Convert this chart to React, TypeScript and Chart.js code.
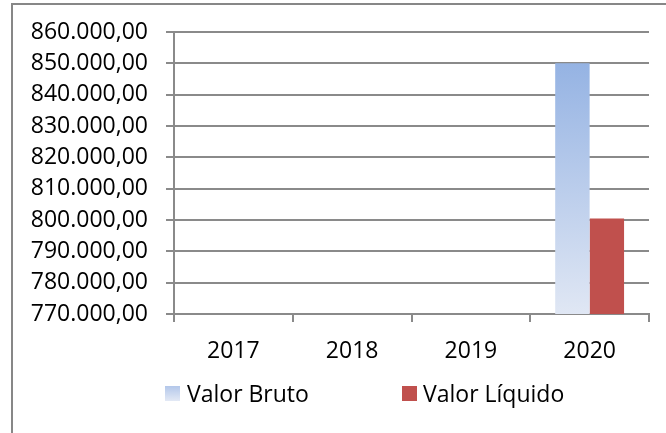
import { useEffect, useRef } from "react";
import { Chart, registerables } from "chart.js";

Chart.register(...registerables);

const categories = ["2017", "2018", "2019", "2020"];
const seriesNames = ["Valor Bruto", "Valor Líquido"];
const valorBruto: (number | null)[] = [null, null, null, 850000];
const valorLiquido: (number | null)[] = [null, null, null, 800500];
const yMin = 770000;
const yMax = 860000;
const yStep = 10000;

const FONT = "'Open Sans', sans-serif";
const GRID = "#8a8a8a";
const BLUE_TOP = "#95B3E3";
const BLUE_BOTTOM = "#E0E7F4";
const RED = "#C0504D";

function fmt(v: number): string {
  const s = Math.round(v).toString().replace(/\B(?=(\d{3})+(?!\d))/g, ".");
  return s + ",00";
}

export default function App() {
  const ref = useRef<HTMLCanvasElement>(null);

  useEffect(() => {
    const chart = new Chart(ref.current!, {
      type: "bar",
      data: {
        labels: categories,
        datasets: [
          {
            label: seriesNames[0],
            data: valorBruto,
            backgroundColor: (c: any) => {
              const ch = c.chart;
              const area = ch.chartArea;
              if (!area || c.type !== "data" || c.raw == null) return BLUE_TOP;
              const top = ch.scales.y.getPixelForValue(c.raw);
              const g = ch.ctx.createLinearGradient(0, top, 0, area.bottom);
              g.addColorStop(0, BLUE_TOP);
              g.addColorStop(1, BLUE_BOTTOM);
              return g;
            },
          },
          {
            label: seriesNames[1],
            data: valorLiquido,
            backgroundColor: RED,
          },
        ],
      },
      options: {
        animation: false,
        responsive: false,
        layout: { padding: { top: 32, right: 17, bottom: 67, left: 0 } },
        plugins: { legend: { display: false }, tooltip: { enabled: false } },
        datasets: { bar: { categoryPercentage: 0.58, barPercentage: 1 } },
        scales: {
          x: {
            grid: {
              drawOnChartArea: false,
              drawTicks: true,
              tickLength: 8,
              color: GRID,
              lineWidth: 2,
            },
            border: { color: GRID, width: 2 },
            ticks: {
              color: "#000",
              font: { family: FONT, size: 23 },
              padding: 16,
              autoSkip: false,
              maxRotation: 0,
            },
            afterFit: (s: any) => {
              s.height = 52;
            },
          },
          y: {
            min: yMin,
            max: yMax,
            ticks: {
              stepSize: yStep,
              autoSkip: false,
              callback: (v: any) => fmt(Number(v)),
              color: "#000",
              font: { family: FONT, size: 23 },
              padding: 18,
            },
            grid: { color: GRID, lineWidth: 2, tickLength: 8 },
            border: { color: GRID, width: 2 },
            afterFit: (s: any) => {
              s.width = 174;
            },
          },
        },
      },
    });
    return () => chart.destroy();
  }, []);

  const textStyle: React.CSSProperties = {
    fontFamily: FONT,
    fontSize: 23,
    color: "#000",
    whiteSpace: "nowrap",
  };

  return (
    <div style={{ position: "fixed", left: 0, top: 0, width: 666, height: 433, overflow: "hidden", background: "#fff" }}>
      <div
        style={{
          position: "absolute",
          left: 11,
          top: 3,
          width: 700,
          height: 500,
          borderLeft: "2px solid #878787",
          borderTop: "2px solid #878787",
        }}
      />
      <canvas ref={ref} width={666} height={433} style={{ position: "absolute", left: 0, top: 0, width: 666, height: 433 }} />
      <div style={{ position: "absolute", left: 165, top: 378, height: 30, display: "flex", alignItems: "center" }}>
        <div style={{ width: 15, height: 15, background: `linear-gradient(to bottom, #b3c7ea, #e3e9f5)`, marginRight: 7 }} />
        <span style={textStyle}>{seriesNames[0]}</span>
      </div>
      <div style={{ position: "absolute", left: 402, top: 378, height: 30, display: "flex", alignItems: "center" }}>
        <div style={{ width: 15, height: 15, background: RED, marginRight: 6 }} />
        <span style={textStyle}>{seriesNames[1]}</span>
      </div>
    </div>
  );
}
